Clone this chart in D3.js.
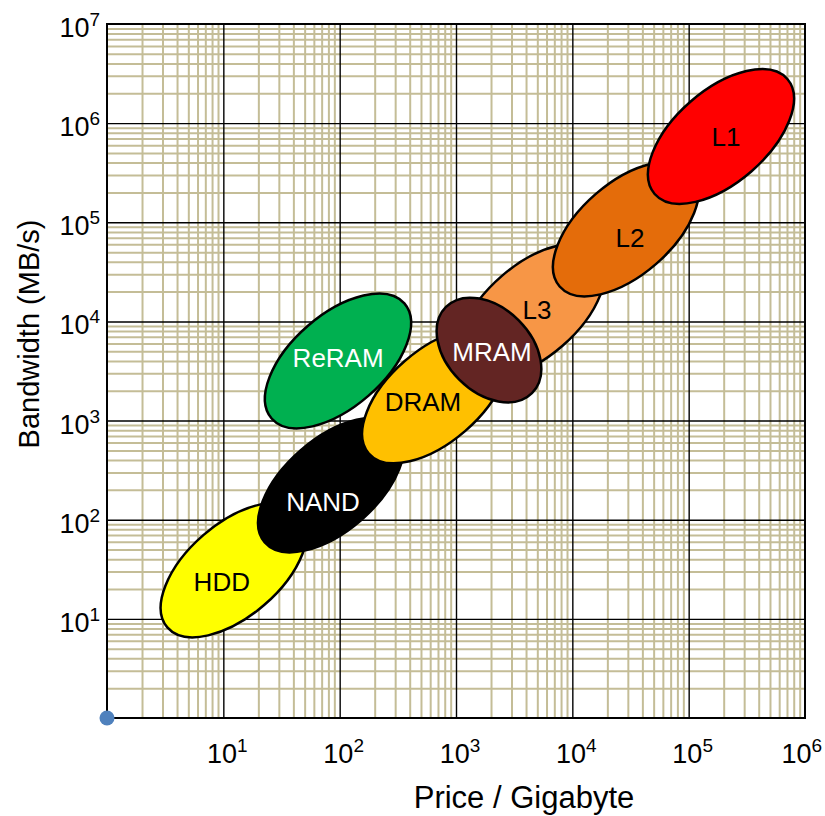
<!DOCTYPE html>
<html>
<head>
<meta charset="utf-8">
<script src="https://cdn.jsdelivr.net/npm/d3@7"></script>
<style>
    body { margin: 0; background: #fff; }
    svg { font-family: "Liberation Sans", Arial, sans-serif; }
    .grid .domain { display: none; }
    .minor line { stroke: #c4bd97; stroke-width: 2; }
    .major line { stroke: #000; stroke-width: 1.4; }
</style>
</head>
<body>
<svg id="chart"></svg>
<script>
// memory technologies, in drawing order (later ones sit on top)
const memories = ['HDD', 'NAND', 'ReRAM', 'DRAM', 'L3', 'MRAM', 'L2', 'L1']

// ends of each ellipse's long axis: (priceFrom, bwFrom) -> (priceTo, bwTo)
const priceFrom = [3.3, 22.7, 26, 178, 1210, 820, 7780, 51000]
const priceTo   = [46, 313, 360, 2450, 16700, 4500, 107000, 705000]
const bwFrom    = [8.2, 59, 1050, 466, 3350, 14000, 22500, 193000]
const bwTo      = [118, 850, 15200, 6730, 48400, 1890, 325000, 2790000]

// where each name sits
const labelPrice = [9.7, 72, 97, 520, 4970, 2040, 31300, 209000]
const labelBw    = [23.5, 151, 4280, 1540, 13000, 4920, 69500, 728000]

// the lone series point
const pointPrice = [1]
const pointBw    = [1]

const xTickExp = [1, 2, 3, 4, 5, 6]
const yTickExp = [1, 2, 3, 4, 5, 6, 7]

const fills = {HDD: '#ffff00', NAND: '#000000', ReRAM: '#00b050', DRAM: '#ffc000',
               L3: '#f79646', MRAM: '#632523', L2: '#e46c0a', L1: '#ff0000'}
const textColors = {HDD: '#000', NAND: '#fff', ReRAM: '#fff', DRAM: '#000',
                    L3: '#000', MRAM: '#fff', L2: '#000', L1: '#000'}
const minorRatio = {MRAM: 0.69}

const margin = {top: 24, right: 20, bottom: 98, left: 107}
const containerWidth = 825
const containerHeight = 816
const width = containerWidth - margin.left - margin.right
const height = containerHeight - margin.top - margin.bottom

const svg = d3.select('#chart')
    .attr('width', containerWidth)
    .attr('height', containerHeight)

const g = svg.append('g')
    .attr('transform', `translate(${margin.left},${margin.top})`)

const x = d3.scaleLog().domain([1, 1e6]).range([0, width])
const y = d3.scaleLog().domain([1, 1e7]).range([height, 0])

// minor + major grid
const minorVals = (maxExp) => {
    let out = []
    for (let e = 0; e < maxExp; e++)
        for (let k = 2; k <= 9; k++) out.push(k * Math.pow(10, e))
    return out
}
const majorVals = (maxExp) => d3.range(1, maxExp).map(e => Math.pow(10, e))

g.append('g')
    .attr('class', 'grid minor')
    .attr('transform', `translate(0,${height})`)
    .call(d3.axisBottom(x).tickValues(minorVals(6)).tickSize(-height).tickFormat(''))
g.append('g')
    .attr('class', 'grid minor')
    .call(d3.axisLeft(y).tickValues(minorVals(7)).tickSize(-width).tickFormat(''))
g.append('g')
    .attr('class', 'grid major')
    .attr('transform', `translate(0,${height})`)
    .call(d3.axisBottom(x).tickValues(majorVals(6)).tickSize(-height).tickFormat(''))
g.append('g')
    .attr('class', 'grid major')
    .call(d3.axisLeft(y).tickValues(majorVals(7)).tickSize(-width).tickFormat(''))

g.append('rect')
    .attr('width', width)
    .attr('height', height)
    .attr('fill', 'none')
    .attr('stroke', '#000')
    .attr('stroke-width', 2)

// ellipses
const idx = d3.range(memories.length)
g.selectAll('ellipse.mem')
    .data(idx)
    .join('ellipse')
        .attr('class', 'mem')
        .each(function (i) {
            const x0 = x(priceFrom[i]), y0 = y(bwFrom[i])
            const x1 = x(priceTo[i]), y1 = y(bwTo[i])
            const cx = (x0 + x1) / 2, cy = (y0 + y1) / 2
            const a = Math.hypot(x1 - x0, y1 - y0) / 2
            const b = a * (minorRatio[memories[i]] || 0.527)
            const ang = Math.atan2(y1 - y0, x1 - x0) * 180 / Math.PI
            d3.select(this)
                .attr('cx', cx).attr('cy', cy)
                .attr('rx', a).attr('ry', b)
                .attr('transform', `rotate(${ang},${cx},${cy})`)
        })
        .attr('fill', i => fills[memories[i]])
        .attr('stroke', '#000')
        .attr('stroke-width', 2.5)

g.selectAll('text.mem-label')
    .data(idx)
    .join('text')
        .attr('class', 'mem-label')
        .attr('x', i => x(labelPrice[i]))
        .attr('y', i => y(labelBw[i]))
        .attr('text-anchor', 'middle')
        .attr('dominant-baseline', 'central')
        .attr('font-size', 26)
        .attr('fill', i => textColors[memories[i]])
        .text(i => memories[i])

g.selectAll('circle.pt')
    .data(pointPrice)
    .join('circle')
        .attr('class', 'pt')
        .attr('cx', (d, i) => x(d))
        .attr('cy', (d, i) => y(pointBw[i]))
        .attr('r', 7.5)
        .attr('fill', '#4f81bd')

// tick labels with superscripts
const addPow = (sel) => {
    sel.append('tspan').text('10')
    sel.append('tspan')
        .attr('font-size', 19)
        .attr('dy', -11)
        .text(d => d)
}

g.selectAll('text.xtick')
    .data(xTickExp)
    .join('text')
        .attr('class', 'xtick')
        .attr('x', d => x(Math.pow(10, d)) + 4)
        .attr('y', height + 45)
        .attr('text-anchor', 'middle')
        .attr('font-size', 27)
        .call(addPow)
        .each(function () {
            // keep the last label inside the window
            const bb = this.getBBox()
            const over = margin.left + bb.x + bb.width - (containerWidth - 3)
            if (over > 0) d3.select(this).attr('x', +d3.select(this).attr('x') - over)
        })

g.selectAll('text.ytick')
    .data(yTickExp)
    .join('text')
        .attr('class', 'ytick')
        .attr('x', -7)
        .attr('y', d => y(Math.pow(10, d)) + 13)
        .attr('text-anchor', 'end')
        .attr('font-size', 27)
        .call(addPow)

// axis titles
svg.append('text')
    .attr('x', 524)
    .attr('y', 808)
    .attr('text-anchor', 'middle')
    .attr('font-size', 31)
    .text('Price / Gigabyte')

svg.append('text')
    .attr('transform', 'translate(39,334) rotate(-90)')
    .attr('text-anchor', 'middle')
    .attr('font-size', 29)
    .text('Bandwidth (MB/s)')
</script>
</body>
</html>
